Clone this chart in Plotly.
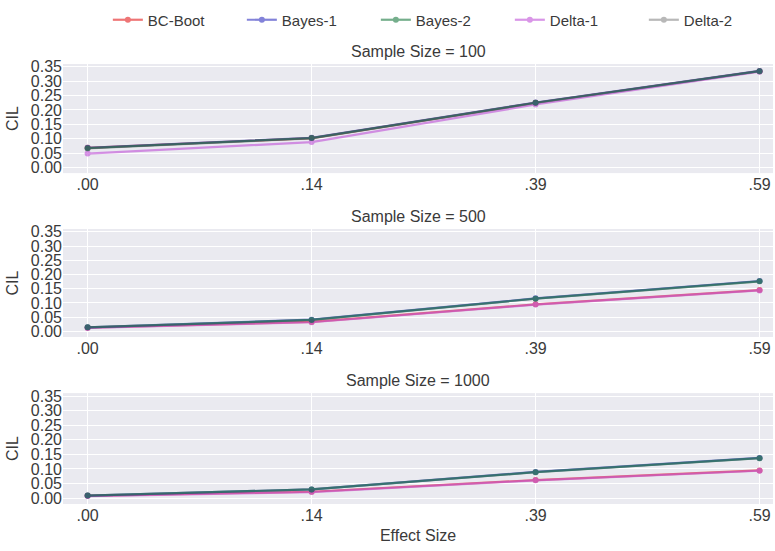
import plotly.graph_objects as go
from plotly.subplots import make_subplots

# Effect sizes on the x axis and the three sample-size panels
effect_sizes = [".00", ".14", ".39", ".59"]
sample_sizes = [100, 500, 1000]
methods = ["BC-Boot", "Bayes-1", "Bayes-2", "Delta-1", "Delta-2"]

# Confidence-interval length (CIL) per method; one row per sample size
bc_boot = [
    [0.068, 0.102, 0.225, 0.335],
    [0.013, 0.033, 0.095, 0.145],
    [0.008, 0.022, 0.062, 0.095],
]
bayes_1 = [
    [0.068, 0.103, 0.226, 0.336],
    [0.014, 0.041, 0.116, 0.177],
    [0.009, 0.030, 0.090, 0.138],
]
bayes_2 = [
    [0.067, 0.102, 0.225, 0.335],
    [0.014, 0.040, 0.115, 0.176],
    [0.009, 0.030, 0.089, 0.137],
]
delta_1 = [
    [0.048, 0.088, 0.219, 0.333],
    [0.012, 0.032, 0.094, 0.144],
    [0.007, 0.021, 0.061, 0.094],
]
delta_2 = [
    [0.066, 0.101, 0.224, 0.335],
    [0.014, 0.040, 0.115, 0.176],
    [0.009, 0.030, 0.089, 0.137],
]

series = dict(zip(methods, [bc_boot, bayes_1, bayes_2, delta_1, delta_2]))
colors = dict(zip(methods, ["#e41a1c", "#3030c0", "#1a7a40", "#c050d8", "#8a8a8a"]))
# drawing order inside each panel (legend keeps the method order via legendrank)
draw_order = ["Delta-2", "BC-Boot", "Delta-1", "Bayes-1", "Bayes-2"]

FONT = "Liberation Sans, Arial, sans-serif"
TXT = "#3a3a3a"
BG = "#eaeaf0"

fig = make_subplots(
    rows=3, cols=1,
    subplot_titles=[f"Sample Size = {n}" for n in sample_sizes],
    vertical_spacing=0.1,
)

for r in range(3):
    for name in draw_order:
        col = colors[name]
        fig.add_trace(
            go.Scatter(
                x=effect_sizes,
                y=series[name][r],
                mode="lines+markers",
                name=name,
                legendgroup=name,
                legendrank=methods.index(name) + 1,
                showlegend=(r == 0),
                line=dict(color=col, width=2.2),
                marker=dict(color=col, size=6),
                opacity=0.6,
            ),
            row=r + 1, col=1,
        )

# Panel placement (fractions of the plotting area)
domains = [[0.752, 1.0], [0.3795, 0.625], [0.0, 0.252]]
for r in range(3):
    yname = "yaxis" if r == 0 else f"yaxis{r + 1}"
    xname = "xaxis" if r == 0 else f"xaxis{r + 1}"
    fig.layout[yname].update(
        domain=domains[r],
        range=[-0.02, 0.36],
        dtick=0.05, tick0=0, tickformat=".2f",
        showgrid=True, gridcolor="white", gridwidth=1,
        zeroline=False, showline=False, ticks="",
        tickfont=dict(size=16, color=TXT, family=FONT),
        title=dict(text="CIL", font=dict(size=16, color=TXT, family=FONT), standoff=8),
    )
    fig.layout[xname].update(
        type="category",
        range=[-0.11, 3.06],
        showgrid=True, gridcolor="white", gridwidth=1,
        zeroline=False, showline=False, ticks="",
        tickfont=dict(size=16, color=TXT, family=FONT),
    )

fig.layout["xaxis3"].title = dict(text="Effect Size", font=dict(size=16, color=TXT, family=FONT), standoff=6)

# Subplot titles sit just above each panel
for ann, d in zip(fig.layout.annotations, domains):
    ann.y = d[1]
    ann.font = dict(size=16, color=TXT, family=FONT)
    ann.yshift = 2

fig.update_layout(
    width=775, height=551,
    margin=dict(l=63, r=2, t=64, b=47, autoexpand=False),
    paper_bgcolor="white",
    plot_bgcolor=BG,
    font=dict(family=FONT, color=TXT, size=16),
    legend=dict(
        orientation="h",
        x=0.535, xanchor="center",
        y=1.1, yanchor="middle",
        entrywidth=89, entrywidthmode="pixels",
        font=dict(size=15, color=TXT, family=FONT),
        bgcolor="rgba(0,0,0,0)",
    ),
)

fig.write_html("out.html")
